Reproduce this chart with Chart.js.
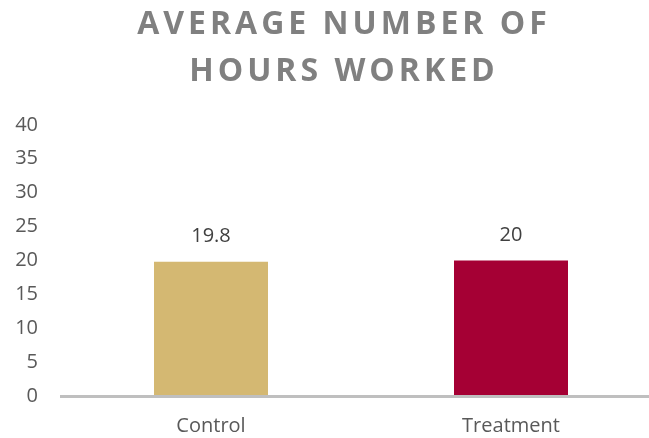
<!DOCTYPE html>
<html>
<head>
<meta charset="utf-8">
<script src="https://cdn.jsdelivr.net/npm/chart.js@4.4.0/dist/chart.umd.min.js"></script>
<style>
  html, body { margin: 0; padding: 0; background: #fff; overflow: hidden; }
  #wrap { width: 661px; height: 438px; }
</style>
</head>
<body>
<div id="wrap"><canvas id="myChart" width="661" height="438"></canvas></div>
<script>
var categories = ['Control', 'Treatment'];
var hours = [19.8, 20];
var barColors = ['#D4B872', '#A50034'];
var titleLines = ['AVERAGE NUMBER OF', 'HOURS WORKED'];
var yMin = 0, yMax = 40, yStep = 5;

// title gets letter spacing and a small nudge, everything else drawn plain
var titleSpacing = {
  id: 'titleSpacing',
  beforeDraw: function(chart) {
    chart.ctx.save();
    chart.ctx.translate(6, 0);
    chart.ctx.letterSpacing = '4px';
  },
  beforeDatasetsDraw: function(chart) {
    chart.ctx.restore();
  }
};

var valueLabels = {
  id: 'valueLabels',
  afterDatasetsDraw: function(chart) {
    var ctx = chart.ctx;
    var meta = chart.getDatasetMeta(0);
    ctx.save();
    ctx.font = '20px "Open Sans"';
    ctx.fillStyle = '#404040';
    ctx.textAlign = 'center';
    ctx.textBaseline = 'middle';
    meta.data.forEach(function(bar, i) {
      ctx.fillText(String(hours[i]), bar.x, bar.y - 25);
    });
    ctx.restore();
  }
};

var ctx = document.getElementById('myChart').getContext('2d');
var myChart = new Chart(ctx, {
  type: 'bar',
  data: {
    labels: categories,
    datasets: [{
      data: hours,
      backgroundColor: barColors,
      borderWidth: 0,
      barPercentage: 0.38,
      categoryPercentage: 1
    }]
  },
  options: {
    responsive: false,
    animation: false,
    devicePixelRatio: 1,
    layout: { padding: { left: 15, right: 0, top: 0, bottom: 0 } },
    plugins: {
      legend: { display: false },
      tooltip: { enabled: false },
      title: {
        display: true,
        text: titleLines,
        color: '#808080',
        font: { family: 'Open Sans', size: 32, weight: 'bold', lineHeight: 1.45 },
        padding: { top: 2, bottom: 30 }
      }
    },
    scales: {
      x: {
        grid: { display: false, drawTicks: false },
        border: { display: true, color: '#BFBFBF', width: 3, z: 1 },
        ticks: { color: '#595959', font: { family: 'Open Sans', size: 20 }, padding: 18, z: 1 },
        afterFit: function(scale) { scale.height = 42; }
      },
      y: {
        min: yMin,
        max: yMax,
        grid: { display: false, drawTicks: false },
        border: { display: false },
        ticks: { stepSize: yStep, color: '#595959', font: { family: 'Open Sans', size: 20 }, padding: 23, z: 1 },
        afterFit: function(scale) { scale.width = 46; }
      }
    }
  },
  plugins: [titleSpacing, valueLabels]
});
</script>
</body>
</html>
